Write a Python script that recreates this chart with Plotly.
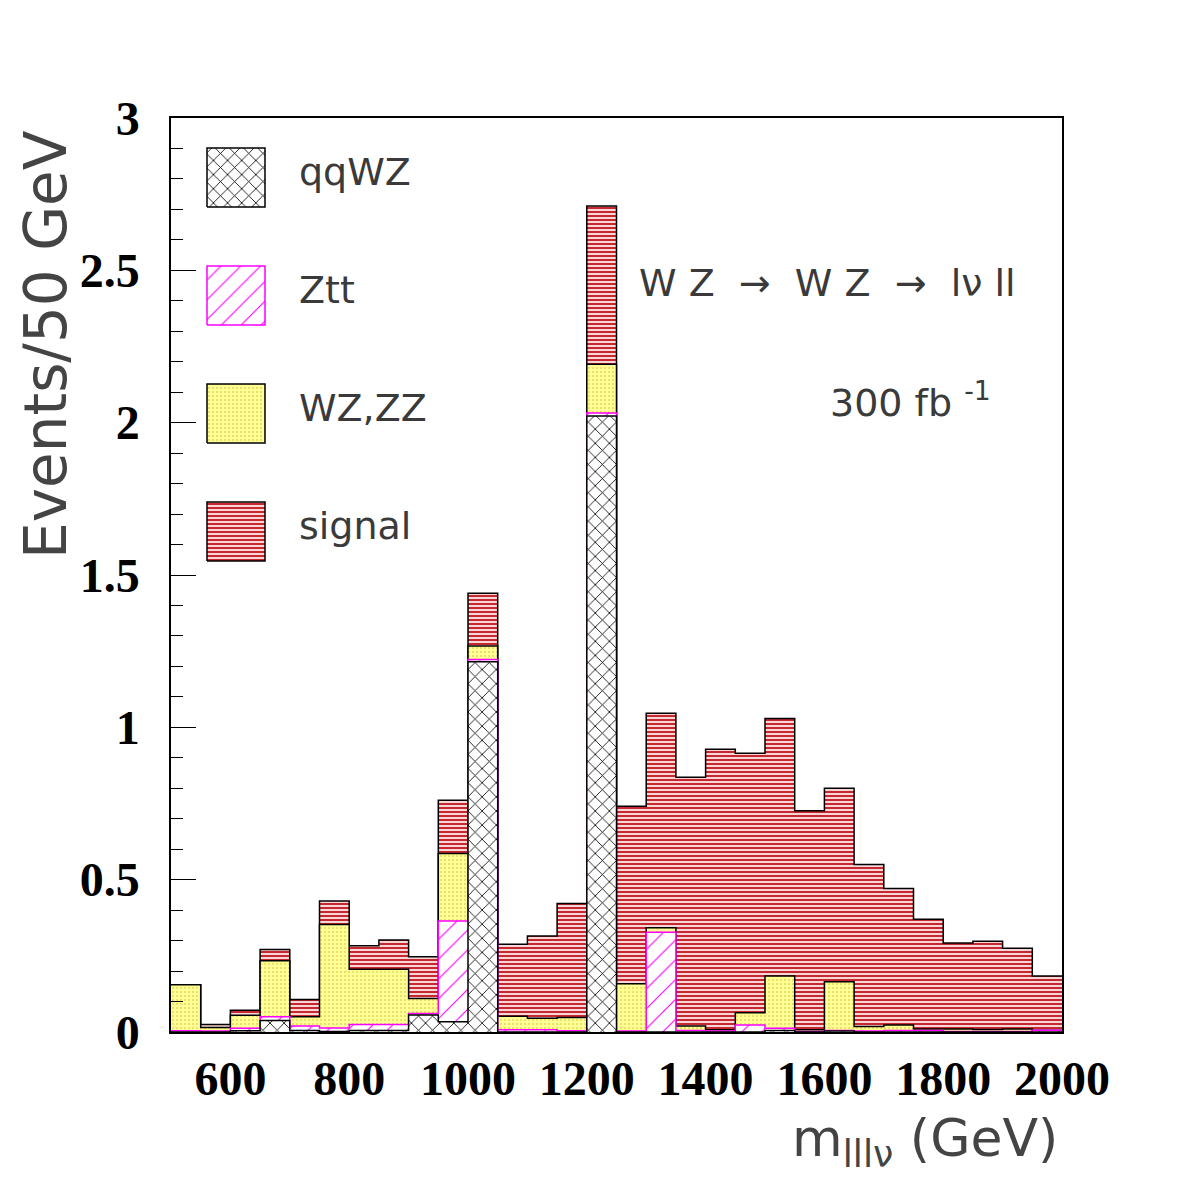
import numpy as np
import plotly.graph_objects as go

# ---------------- data (events / 50 GeV), bins 500..2000 GeV ----------------
bin_edges = list(range(500, 2001, 50))
qqwz   = [0.000, 0.000, 0.004, 0.038, 0.005, 0.002, 0.005, 0.005, 0.056, 0.034,
          1.215, 0.000, 0.000, 0.000, 2.022, 0.000, 0.000, 0.000, 0.000, 0.000,
          0.005, 0.000, 0.003, 0.000, 0.000, 0.000, 0.000, 0.000, 0.000, 0.000]
ztt    = [0.004, 0.003, 0.008, 0.012, 0.015, 0.011, 0.020, 0.020, 0.005, 0.330,
          0.008, 0.007, 0.007, 0.004, 0.010, 0.003, 0.327, 0.005, 0.003, 0.023,
          0.007, 0.002, 0.002, 0.003, 0.005, 0.005, 0.002, 0.002, 0.002, 0.006]
wzzz   = [0.151, 0.012, 0.043, 0.184, 0.030, 0.340, 0.181, 0.181, 0.049, 0.222,
          0.044, 0.045, 0.038, 0.044, 0.160, 0.155, 0.015, 0.015, 0.004, 0.040,
          0.172, 0.005, 0.160, 0.015, 0.018, 0.005, 0.008, 0.006, 0.008, 0.000]
signal = [0.000, 0.010, 0.016, 0.037, 0.057, 0.077, 0.077, 0.096, 0.137, 0.175,
          0.173, 0.236, 0.270, 0.374, 0.519, 0.583, 0.704, 0.816, 0.921, 0.852,
          0.845, 0.719, 0.635, 0.532, 0.448, 0.360, 0.282, 0.290, 0.265, 0.178]
series_names = ["qqWZ", "Ztt", "WZ,ZZ", "signal"]
x_tick_vals = [600, 800, 1000, 1200, 1400, 1600, 1800, 2000]
y_tick_vals = [0, 0.5, 1, 1.5, 2, 2.5, 3]
y_tick_text = ["0", "0.5", "1", "1.5", "2", "2.5", "3"]

# cumulative histograms (PAW-style overlay)
c_qq = np.array(qqwz)
c_zt = c_qq + np.array(ztt)
c_wz = c_zt + np.array(wzzz)
c_sg = c_wz + np.array(signal)

# ---------------- styles ----------------
W = H = 1182
L, R, T, B = 171, 1062, 118, 1032   # plot area in pixels

styles = {
    "signal": dict(shape="-", bgcolor="#f9d6d6", fgcolor="#c0141e", size=4, solidity=0.45, line="black"),
    "WZ,ZZ":  dict(shape=".", bgcolor="#ffff96", fgcolor="#e3d85a", size=4, solidity=0.2, line="black"),
    "Ztt":    dict(shape="/", bgcolor="white", fgcolor="#ff00ff", size=14, solidity=0.08, line="#ff00ff"),
    "qqWZ":   dict(shape="x", bgcolor="white", fgcolor="#000000", size=10, solidity=0.16, line="black"),
}

def step(v):
    v = list(v)
    return v + [v[-1]]

def fp(st):
    return dict(shape=st["shape"], bgcolor=st["bgcolor"], fgcolor=st["fgcolor"],
                size=st["size"], solidity=st["solidity"], fgopacity=1)

fig = go.Figure()
for name, vals in [("signal", c_sg), ("WZ,ZZ", c_wz), ("Ztt", c_zt), ("qqWZ", c_qq)]:
    st = styles[name]
    fig.add_trace(go.Scatter(
        x=bin_edges, y=step(vals), mode="lines",
        line=dict(shape="hv", color=st["line"], width=1.5),
        fill="tozeroy", fillcolor=st["bgcolor"], fillpattern=fp(st),
        showlegend=False, hoverinfo="skip"))

# ---------------- custom legend (large boxes) on a hidden pixel axis ----------------
box_x0, box_x1 = 207, 265
box_tops = [148, 266, 384, 502]
box_h = 59
for name, top in zip(series_names, box_tops):
    st = styles[name]
    x0, x1 = box_x0 - L, box_x1 - L
    y1, y0 = B - top, B - (top + box_h)
    fig.add_trace(go.Scatter(
        x=[x0, x1, x1, x0, x0], y=[y0, y0, y1, y1, y0], mode="lines",
        line=dict(color=st["line"], width=1.5), fill="toself",
        fillcolor=st["bgcolor"], fillpattern=fp(st),
        xaxis="x2", yaxis="y2", showlegend=False, hoverinfo="skip"))

def px(xp):
    return (xp - L) / (R - L)

def py(yp):
    return (B - yp) / (B - T)

txt_font = dict(family="DejaVu Sans", size=38, color="#3a3a3a")
ann = []
for name, top in zip(series_names, box_tops):
    ann.append(dict(text=name, x=px(297), y=py(top + box_h / 2 - 6), xref="paper", yref="paper",
                    xanchor="left", yanchor="middle", showarrow=False, font=txt_font))
ann.append(dict(text="W Z  \u2192  W Z  \u2192  l\u03bd ll", x=px(637), y=py(283), xref="paper", yref="paper",
                xanchor="left", yanchor="middle", showarrow=False, font=txt_font))
ann.append(dict(text="300 fb <sup>-1</sup>", x=px(828), y=py(400), xref="paper", yref="paper",
                xanchor="left", yanchor="middle", showarrow=False, font=txt_font))
ann.append(dict(text="Events/50 GeV", x=px(46), y=py(345), xref="paper", yref="paper",
                xanchor="center", yanchor="middle", textangle=-90, showarrow=False,
                font=dict(family="DejaVu Sans", size=58, color="#444444")))
ann.append(dict(text="m<sub>lll\u03bd</sub> (GeV)", x=px(1060), y=py(1106), xref="paper", yref="paper",
                xanchor="right", yanchor="top", showarrow=False,
                font=dict(family="DejaVu Sans", size=52, color="#444444")))

tick_font = dict(family="Liberation Serif", size=48, color="black", weight="bold")
fig.update_layout(
    width=W, height=H,
    margin=dict(l=L, r=W - R, t=T, b=H - B, pad=0),
    paper_bgcolor="white", plot_bgcolor="white",
    showlegend=False,
    xaxis=dict(range=[500, 2000], tickvals=x_tick_vals, tickfont=tick_font,
               ticks="", showline=True, mirror=True, linecolor="black", linewidth=1.5,
               showgrid=False, zeroline=False, ticklabelstandoff=4),
    yaxis=dict(range=[0, 3], tickvals=y_tick_vals, ticktext=y_tick_text, tickfont=tick_font,
               ticks="inside", ticklen=25, tickcolor="black", tickwidth=1,
               minor=dict(dtick=0.1, ticks="inside", ticklen=12, tickcolor="black"),
               showline=True, mirror=True, linecolor="black", linewidth=1.5,
               showgrid=False, zeroline=False, ticklabelstandoff=20),
    xaxis2=dict(range=[0, R - L], overlaying="x", anchor="y2", visible=False, fixedrange=True),
    yaxis2=dict(range=[0, B - T], overlaying="y", anchor="x2", visible=False, fixedrange=True),
    annotations=ann,
)

fig.write_html("out.html")
